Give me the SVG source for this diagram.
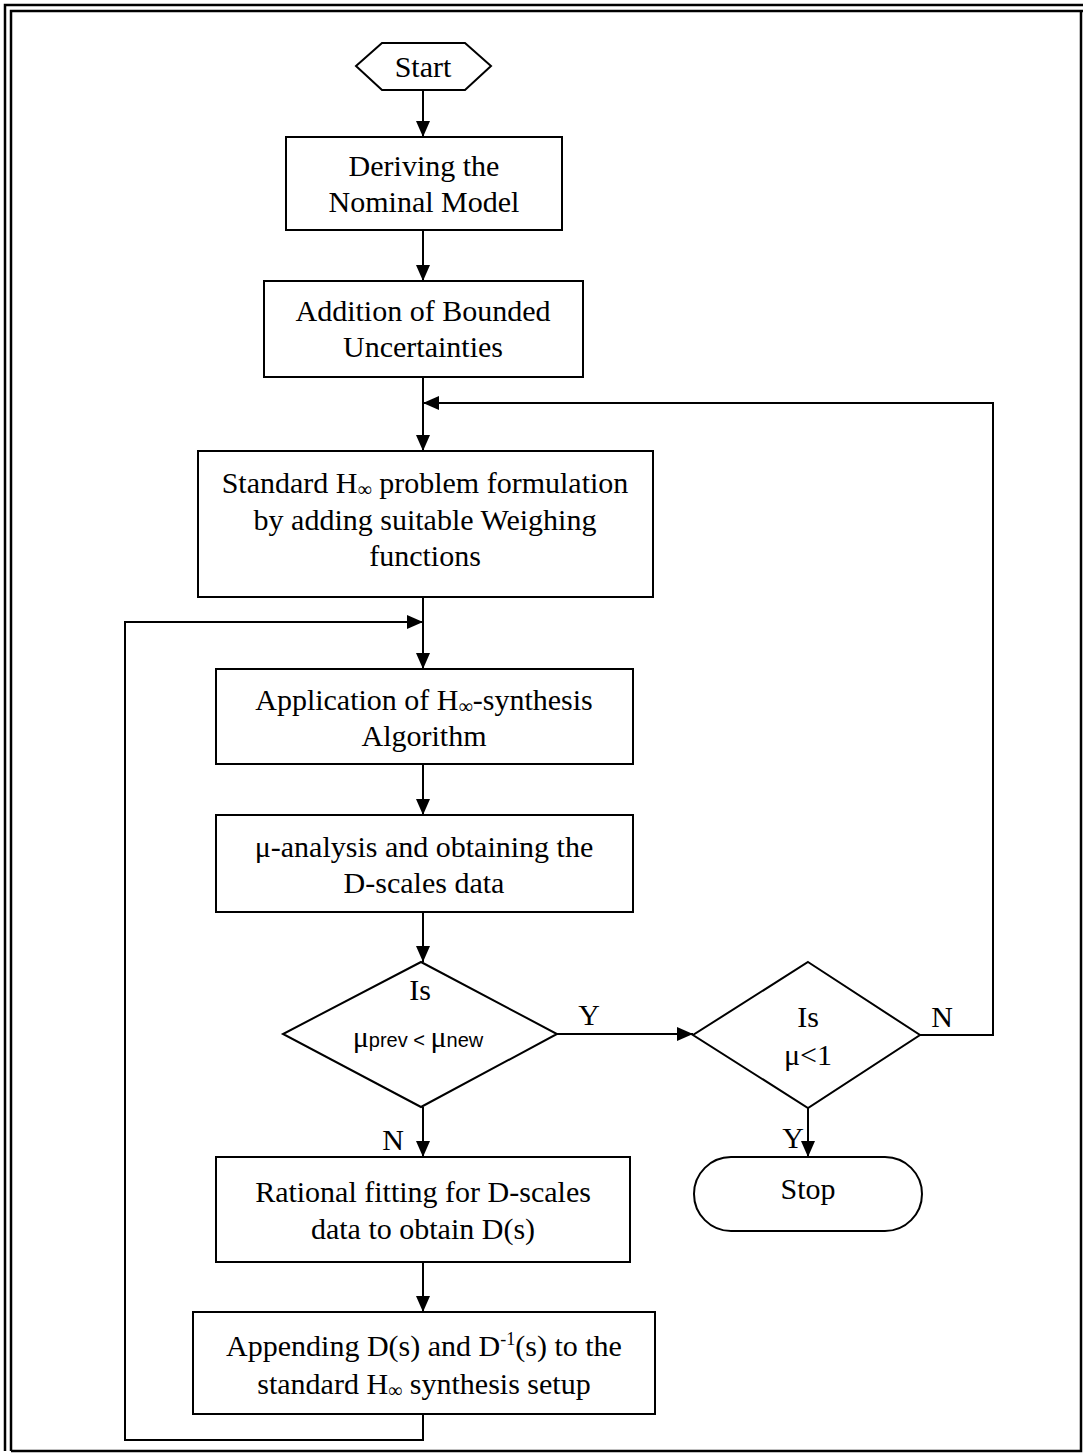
<svg xmlns="http://www.w3.org/2000/svg" width="1083" height="1455" viewBox="0 0 1083 1455">
  <defs>
    <marker id="ah" markerWidth="16" markerHeight="14" refX="16" refY="7" orient="auto" markerUnits="userSpaceOnUse">
      <path d="M0,0 L16,7 L0,14 z" fill="#000"/>
    </marker>
    <style>
      .box { fill: #fff; stroke: #000; stroke-width: 2; }
      .wire { fill: none; stroke: #000; stroke-width: 2; }
      .frame { fill: none; stroke: #000; stroke-width: 2.5; }
      text { font-family: "Liberation Serif", "Times New Roman", serif; font-size: 30px; fill: #000; }
      .c { text-anchor: middle; }
      .e { text-anchor: end; }
      .sans { font-family: "Liberation Sans", Arial, sans-serif; font-size: 20px; }
    </style>
  </defs>

  <rect width="1083" height="1455" fill="#fff"/>

  <!-- page frame: double rule on left and top -->
  <g id="frame">
    <path class="frame" d="M5,1451 V5 H1083"/>
    <path class="frame" d="M11,1451 V11 H1083"/>
    <path class="frame" d="M1081,11 V1451 H11"/>
  </g>

  <!-- connectors -->
  <g id="connectors">
    <path class="wire" d="M423,90 V137" marker-end="url(#ah)"/>
    <path class="wire" d="M423,230 V281" marker-end="url(#ah)"/>
    <path class="wire" d="M423,377 V451" marker-end="url(#ah)"/>
    <path class="wire" d="M920,1035 H993 V403 H423" marker-end="url(#ah)"/>
    <path class="wire" d="M423,597 V669" marker-end="url(#ah)"/>
    <path class="wire" d="M423,1414 V1440 H125 V622 H423" marker-end="url(#ah)"/>
    <path class="wire" d="M423,764 V815" marker-end="url(#ah)"/>
    <path class="wire" d="M423,912 V962" marker-end="url(#ah)"/>
    <path class="wire" d="M557,1034 H693" marker-end="url(#ah)"/>
    <path class="wire" d="M808,1108 V1157" marker-end="url(#ah)"/>
    <path class="wire" d="M423,1107 V1157" marker-end="url(#ah)"/>
    <path class="wire" d="M423,1262 V1312" marker-end="url(#ah)"/>
    <text x="589" y="1025" class="c">Y</text>
    <text x="942" y="1027" class="c">N</text>
    <text x="804" y="1148" class="e">Y</text>
    <text x="404" y="1150" class="e">N</text>
  </g>

  <g id="start">
    <polygon class="box" points="356,66 382,43 465,43 491,66 465,90 382,90"/>
    <text x="423" y="77" class="c">Start</text>
  </g>

  <g id="nominal-model">
    <rect class="box" x="286" y="137" width="276" height="93"/>
    <text x="424" y="176" class="c">Deriving the</text>
    <text x="424" y="212" class="c">Nominal Model</text>
  </g>

  <g id="uncertainties">
    <rect class="box" x="264" y="281" width="319" height="96"/>
    <text x="423" y="321" class="c">Addition of Bounded</text>
    <text x="423" y="357" class="c">Uncertainties</text>
  </g>

  <g id="hinf-formulation">
    <rect class="box" x="198" y="451" width="455" height="146"/>
    <text x="425" y="493" class="c">Standard H<tspan font-size="20" dy="3">∞</tspan><tspan dy="-3"> problem formulation</tspan></text>
    <text x="425" y="530" class="c">by adding suitable Weighing</text>
    <text x="425" y="566" class="c">functions</text>
  </g>

  <g id="hinf-synthesis">
    <rect class="box" x="216" y="669" width="417" height="95"/>
    <text x="424" y="710" class="c">Application of H<tspan font-size="20" dy="3">∞</tspan><tspan dy="-3">-synthesis</tspan></text>
    <text x="424" y="746" class="c">Algorithm</text>
  </g>

  <g id="mu-analysis">
    <rect class="box" x="216" y="815" width="417" height="97"/>
    <text x="424" y="857" class="c">μ-analysis and obtaining the</text>
    <text x="424" y="893" class="c">D-scales data</text>
  </g>

  <g id="mu-compare">
    <polygon class="box" points="421,962 557,1034 421,1107 283,1034"/>
    <text x="420" y="1000" class="c">Is</text>
    <text x="418" y="1047" class="c">μ<tspan class="sans">prev &lt; </tspan>μ<tspan class="sans">new</tspan></text>
  </g>

  <g id="mu-check">
    <polygon class="box" points="808,962 920,1035 808,1108 693,1035"/>
    <text x="808" y="1027" class="c">Is</text>
    <text x="808" y="1065" class="c">μ&lt;1</text>
  </g>

  <g id="stop">
    <rect class="box" x="694" y="1157" width="228" height="74" rx="37" ry="37"/>
    <text x="808" y="1199" class="c">Stop</text>
  </g>

  <g id="rational-fit">
    <rect class="box" x="216" y="1157" width="414" height="105"/>
    <text x="423" y="1202" class="c">Rational fitting for D-scales</text>
    <text x="423" y="1239" class="c">data to obtain D(s)</text>
  </g>

  <g id="append-d">
    <rect class="box" x="193" y="1312" width="462" height="102"/>
    <text x="424" y="1356" class="c">Appending D(s) and D<tspan font-size="18" dy="-11">-1</tspan><tspan dy="11">(s) to the</tspan></text>
    <text x="424" y="1394" class="c">standard H<tspan font-size="20" dy="3">∞</tspan><tspan dy="-3"> synthesis setup</tspan></text>
  </g>
</svg>
